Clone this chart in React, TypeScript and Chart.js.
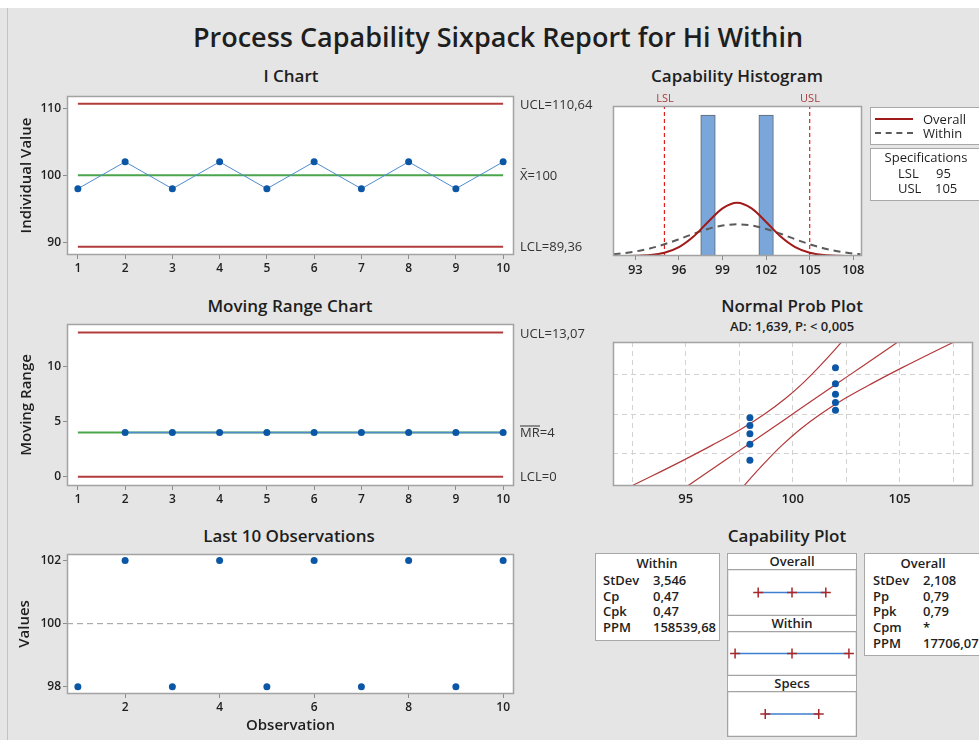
import React, { useEffect, useRef } from 'react';
import { Chart, registerables } from 'chart.js';

Chart.register(...registerables);

const FONT = '"Open Sans", "Noto Sans", "DejaVu Sans", sans-serif';

// ---------------- data ----------------
const observations = [1, 2, 3, 4, 5, 6, 7, 8, 9, 10];
const individualValues = [98, 102, 98, 102, 98, 102, 98, 102, 98, 102];
const movingRanges = [null, 4, 4, 4, 4, 4, 4, 4, 4, 4];
const iLimits = [110.64, 100, 89.36]; // UCL, mean, LCL
const mrLimits = [13.07, 4, 0]; // UCL, mean, LCL
const obsTicks = [1, 2, 3, 4, 5, 6, 7, 8, 9, 10];
const iYTicks = [90, 100, 110];
const mrYTicks = [0, 5, 10];
const last10XTicks = [2, 4, 6, 8, 10];
const last10YTicks = [98, 100, 102];

const histBinCenters = [98, 102];
const histCounts = [5, 5];
const histBinWidth = 1;
const histXTicks = [93, 96, 99, 102, 105, 108];
const curveX = [91.5, 92, 93, 94, 95, 96, 97, 98, 99, 100, 101, 102, 103, 104, 105, 106, 107, 108, 108.5];
const overallCurve = [0.001, 0.001, 0.008, 0.033, 0.114, 0.313, 0.688, 1.207, 1.691, 1.893, 1.691, 1.207, 0.688, 0.313, 0.114, 0.033, 0.008, 0.001, 0.001];
const withinCurve = [0.064, 0.088, 0.16, 0.269, 0.416, 0.595, 0.787, 0.96, 1.081, 1.125, 1.081, 0.96, 0.787, 0.595, 0.416, 0.269, 0.16, 0.088, 0.064];
const specLimits = [95, 105]; // LSL, USL

const probValues = [98, 98, 98, 98, 98, 102, 102, 102, 102, 102];
const probScores = [-1.5, -0.98, -0.64, -0.37, -0.12, 0.12, 0.37, 0.64, 0.98, 1.5];
const probGridX = [92.5, 95, 97.5, 100, 102.5, 105, 107.5];
const probXTicks = [95, 100, 105];
const probGridZ = [-1.28, 0, 1.28];
const bandZ = [-2.4, -2, -1.5, -1, -0.5, 0, 0.5, 1, 1.5, 2, 2.4];
const bandLower = [92.26, 93.44, 94.88, 96.26, 97.56, 98.69, 99.66, 100.48, 101.2, 101.87, 102.38];
const bandCenter = [94.94, 95.78, 96.84, 97.89, 98.95, 100, 101.05, 102.11, 103.16, 104.22, 105.06];
const bandUpper = [97.62, 98.13, 98.8, 99.52, 100.34, 101.31, 102.44, 103.74, 105.12, 106.56, 107.74];

const capOverall = [93.68, 100, 106.32];
const capWithin = [89.36, 100, 110.64];
const capSpecs = [95, 105];

const withinStats = [['StDev', '3,546'], ['Cp', '0,47'], ['Cpk', '0,47'], ['PPM', '158539,68']];
const overallStats = [['StDev', '2,108'], ['Pp', '0,79'], ['Ppk', '0,79'], ['Cpm', '*'], ['PPM', '17706,07']];

// ---------------- styles ----------------
const RED = '#b23c3c';
const GREEN = '#4aa54c';
const BLUE_LINE = '#4f8ccf';
const BLUE_DOT = '#0b57a5';
const TXT = '#1e1e1e';

const boxPlugin = {
  id: 'box',
  beforeDraw(chart: any, _a: any, o: any) {
    if (!o || !o.fill) return;
    const a = chart.chartArea;
    const c = chart.ctx;
    c.save();
    c.fillStyle = o.fill;
    c.fillRect(a.left, a.top, a.right - a.left, a.bottom - a.top);
    c.restore();
  },
  afterDraw(chart: any, _a: any, o: any) {
    if (!o || !o.stroke) return;
    const a = chart.chartArea;
    const c = chart.ctx;
    c.save();
    c.strokeStyle = o.stroke;
    c.lineWidth = 1.5;
    c.strokeRect(a.left + 0.5, a.top + 0.5, a.right - a.left - 1, a.bottom - a.top - 1);
    c.restore();
  },
};

const tickFont = { family: FONT, size: 12, weight: '600' };

function axis(min: number, max: number, ticks: number[], fit: (s: any) => void, extra: any = {}) {
  return {
    type: 'linear',
    min,
    max,
    offset: false,
    afterBuildTicks: (s: any) => {
      s.ticks = ticks.map((v) => ({ value: v }));
    },
    afterFit: fit,
    border: { display: false },
    grid: { drawOnChartArea: false, drawTicks: true, tickLength: 4, tickColor: '#8c8c8c', offset: false },
    ticks: { color: TXT, font: tickFont, padding: 2, autoSkip: false, maxRotation: 0, callback: (v: any) => String(v) },
    ...extra,
  };
}

const fitW = (w: number) => (s: any) => {
  s.width = w;
};
const fitH = (h: number) => (s: any) => {
  s.height = h;
};

const axisTitle = (text: string, pad: any) => ({
  display: true,
  text,
  color: TXT,
  font: { family: FONT, size: 15, weight: '600' },
  padding: pad,
});

function baseOptions(scales: any) {
  return {
    responsive: false,
    animation: false,
    events: [],
    plugins: {
      legend: { display: false },
      tooltip: { enabled: false },
      box: { fill: '#ffffff', stroke: '#a3a3a3' },
    },
    scales,
  };
}

function hline(y: number, color: string) {
  return {
    data: [
      { x: observations[0], y },
      { x: observations[observations.length - 1], y },
    ],
    borderColor: color,
    borderWidth: 2,
    pointRadius: 0,
  };
}

type Geo = { l: number; t: number; r: number; b: number; yw: number; pl?: number; pt: number; pr: number; xh: number };

function ChartBox({ geo, make }: { geo: Geo; make: (g: Geo) => any }) {
  const ref = useRef<HTMLCanvasElement>(null);
  const pl = geo.pl ?? 0;
  const left = geo.l - geo.yw - pl;
  const top = geo.t - geo.pt;
  const width = pl + geo.yw + (geo.r - geo.l) + geo.pr;
  const height = geo.pt + (geo.b - geo.t) + geo.xh;
  useEffect(() => {
    const cfg = make(geo);
    cfg.options.layout = { autoPadding: false, padding: { left: pl, top: geo.pt, right: geo.pr, bottom: 0 } };
    const chart = new Chart(ref.current as HTMLCanvasElement, { ...cfg, plugins: [boxPlugin] });
    return () => chart.destroy();
  }, []);
  return (
    <canvas
      ref={ref}
      width={width}
      height={height}
      style={{ position: 'absolute', left, top, width, height }}
    />
  );
}

// ---------------- chart configs ----------------
const gI: Geo = { l: 67, t: 96, r: 514, b: 255, yw: 59, pt: 10, pr: 12, xh: 22 };
const gMR: Geo = { l: 67, t: 324, r: 514, b: 486, yw: 59, pt: 10, pr: 12, xh: 22 };
const gL10: Geo = { l: 67, t: 554, r: 514, b: 694, yw: 59, pt: 10, pr: 12, xh: 45 };
const gHist: Geo = { l: 613, t: 106, r: 862, b: 256, yw: 0, pl: 8, pt: 4, pr: 8, xh: 22 };
const gProb: Geo = { l: 613, t: 342, r: 973, b: 486, yw: 0, pl: 5, pt: 4, pr: 5, xh: 22 };
const gCapO: Geo = { l: 727, t: 569, r: 857, b: 616, yw: 0, pt: 0, pr: 0, xh: 0 };
const gCapW: Geo = { l: 727, t: 631, r: 857, b: 676, yw: 0, pt: 0, pr: 0, xh: 0 };
const gCapS: Geo = { l: 727, t: 691, r: 857, b: 737, yw: 0, pt: 0, pr: 0, xh: 0 };

const X_RANGE = [0.77, 10.23];

const makeIChart = (g: Geo) => ({
  type: 'line',
  data: {
    datasets: [
      {
        data: observations.map((x, i) => ({ x, y: individualValues[i] })),
        borderColor: BLUE_LINE,
        borderWidth: 1,
        pointRadius: 3.5,
        pointBackgroundColor: BLUE_DOT,
        pointBorderColor: BLUE_DOT,
        pointBorderWidth: 0,
      },
      hline(iLimits[0], RED),
      hline(iLimits[1], GREEN),
      hline(iLimits[2], RED),
    ],
  },
  options: baseOptions({
    x: axis(X_RANGE[0], X_RANGE[1], obsTicks, fitH(g.xh)),
    y: axis(88.14, 111.8, iYTicks, fitW(g.yw), { title: axisTitle('Individual Value', { top: 10, bottom: 0 }) }),
  }),
});

const makeMRChart = (g: Geo) => ({
  type: 'line',
  data: {
    datasets: [
      {
        data: observations.map((x, i) => ({ x, y: movingRanges[i] })),
        borderColor: BLUE_LINE,
        borderWidth: 1.5,
        pointRadius: 3.5,
        pointBackgroundColor: BLUE_DOT,
        pointBorderColor: BLUE_DOT,
        pointBorderWidth: 0,
      },
      hline(mrLimits[0], RED),
      hline(mrLimits[1], GREEN),
      hline(mrLimits[2], RED),
    ],
  },
  options: baseOptions({
    x: axis(X_RANGE[0], X_RANGE[1], obsTicks, fitH(g.xh)),
    y: axis(-0.85, 13.85, mrYTicks, fitW(g.yw), { title: axisTitle('Moving Range', { top: 10, bottom: 0 }) }),
  }),
});

const makeLast10 = (g: Geo) => ({
  type: 'line',
  data: {
    datasets: [
      {
        data: observations.map((x, i) => ({ x, y: individualValues[i] })),
        showLine: false,
        pointRadius: 3.5,
        pointBackgroundColor: BLUE_DOT,
        pointBorderColor: BLUE_DOT,
        pointBorderWidth: 0,
      },
      {
        data: [
          { x: X_RANGE[0], y: iLimits[1] },
          { x: X_RANGE[1], y: iLimits[1] },
        ],
        borderColor: '#9a9a9a',
        borderWidth: 1,
        borderDash: [6, 4],
        pointRadius: 0,
      },
    ],
  },
  options: baseOptions({
    x: axis(X_RANGE[0], X_RANGE[1], last10XTicks, fitH(g.xh), { title: axisTitle('Observation', { top: 0, bottom: 4 }) }),
    y: axis(97.77, 102.21, last10YTicks, fitW(g.yw), { title: axisTitle('Values', { top: 8, bottom: 0 }) }),
  }),
});

const HIST_X = [91.46, 108.6];
const HIST_YMAX = 5.32;

const makeHist = (g: Geo) => {
  const pxPerUnit = (g.r - g.l) / (HIST_X[1] - HIST_X[0]);
  const specLine = (x: number) => ({
    data: [
      { x, y: 0 },
      { x, y: HIST_YMAX },
    ],
    borderColor: '#e01e1e',
    borderWidth: 1.2,
    borderDash: [4, 3],
    pointRadius: 0,
  });
  return {
    type: 'line',
    data: {
      datasets: [
        {
          data: curveX.map((x, i) => ({ x, y: overallCurve[i] })),
          borderColor: '#a01a1a',
          borderWidth: 2,
          pointRadius: 0,
          cubicInterpolationMode: 'monotone',
          clip: 0,
        },
        {
          data: curveX.map((x, i) => ({ x, y: withinCurve[i] })),
          borderColor: '#5a5a5a',
          borderWidth: 2,
          borderDash: [7, 5],
          pointRadius: 0,
          cubicInterpolationMode: 'monotone',
          clip: 0,
        },
        specLine(specLimits[0]),
        specLine(specLimits[1]),
        {
          type: 'bar',
          data: histBinCenters.map((x, i) => ({ x, y: histCounts[i] })),
          backgroundColor: '#7ba6d9',
          borderColor: '#5d6670',
          borderWidth: 1,
          barThickness: histBinWidth * pxPerUnit,
          grouped: false,
        },
      ],
    },
    options: baseOptions({
      x: axis(HIST_X[0], HIST_X[1], histXTicks, fitH(g.xh), {
        ticks: { color: TXT, font: { family: FONT, size: 13, weight: '600' }, padding: 2, autoSkip: false, maxRotation: 0, callback: (v: any) => String(v) },
      }),
      y: { type: 'linear', display: false, min: 0, max: HIST_YMAX },
    }),
  };
};

const makeProb = (g: Geo) => {
  const band = (xs: number[]) => ({
    data: bandZ.map((z, i) => ({ x: xs[i], y: z })),
    borderColor: '#b2383a',
    borderWidth: 1.2,
    pointRadius: 0,
    cubicInterpolationMode: 'monotone',
    clip: 0,
  });
  return {
    type: 'line',
    data: {
      datasets: [
        {
          data: probValues.map((x, i) => ({ x, y: probScores[i] })),
          showLine: false,
          pointRadius: 3.5,
          pointBackgroundColor: BLUE_DOT,
          pointBorderColor: BLUE_DOT,
          pointBorderWidth: 0,
        },
        band(bandLower),
        band(bandCenter),
        band(bandUpper),
      ],
    },
    options: baseOptions({
      x: axis(91.6, 108.43, probGridX, fitH(g.xh), {
        border: { display: false, dash: [5, 4] },
        grid: { drawOnChartArea: true, drawTicks: false, color: '#d2d2d2', offset: false },
        ticks: {
          color: TXT,
          font: { family: FONT, size: 13, weight: '600' },
          padding: 5,
          autoSkip: false,
          maxRotation: 0,
          callback: (v: any) => (probXTicks.includes(v) ? String(v) : ''),
        },
      }),
      y: axis(-2.33, 2.33, probGridZ, fitW(0), {
        border: { display: false, dash: [5, 4] },
        grid: { drawOnChartArea: true, drawTicks: false, color: '#d2d2d2' },
        ticks: { display: false },
      }),
    }),
  };
};

const CAP_X = [87.85, 112.15];
const makeCap = (vals: number[]) => (_g: Geo) => ({
  type: 'line',
  data: {
    datasets: [
      {
        data: vals.map((x) => ({ x, y: 0.5 })),
        borderColor: '#3f7fcf',
        borderWidth: 1.5,
        pointStyle: 'cross',
        pointRadius: 5,
        pointBorderColor: '#a8282a',
        pointBorderWidth: 1.5,
        clip: false,
      },
    ],
  },
  options: baseOptions({
    x: { type: 'linear', display: false, min: CAP_X[0], max: CAP_X[1] },
    y: { type: 'linear', display: false, min: 0, max: 1 },
  }),
});

// ---------------- text helpers ----------------
function T({
  x,
  y,
  children,
  size = 13,
  weight = 400,
  align = 'left',
  color = TXT,
}: {
  x: number;
  y: number;
  children: any;
  size?: number;
  weight?: number;
  align?: string;
  color?: string;
}) {
  const tx = align === 'center' ? '-50%' : align === 'right' ? '-100%' : '0';
  return (
    <div
      style={{
        position: 'absolute',
        left: x,
        top: y,
        transform: `translate(${tx},-50%)`,
        fontFamily: FONT,
        fontSize: size,
        fontWeight: weight,
        color,
        whiteSpace: 'nowrap',
        lineHeight: 1,
      }}
    >
      {children}
    </div>
  );
}

function Box({ l, t, w, h, bg = '#fff' }: { l: number; t: number; w: number; h: number; bg?: string }) {
  return (
    <div
      style={{
        position: 'absolute',
        left: l,
        top: t,
        width: w,
        height: h,
        boxSizing: 'border-box',
        border: '1.5px solid #a8a8a8',
        background: bg,
      }}
    />
  );
}

export default function App() {
  const rowYs = [580, 595.7, 611.3, 627, 642.7];
  return (
    <div style={{ position: 'absolute', left: 0, top: 0, width: 979, height: 740, overflow: 'hidden', background: '#fff' }}>
      <div style={{ position: 'absolute', left: 0, top: 8, width: 979, height: 732, background: '#e5e5e5' }} />
      <div style={{ position: 'absolute', left: 7, top: 8, width: 1, height: 732, background: '#c2c2c2' }} />

      <T x={498} y={36} size={27} weight={600} align="center">
        Process Capability Sixpack Report for Hi Within
      </T>

      {/* panel titles */}
      <T x={291} y={75} size={17} weight={600} align="center">I Chart</T>
      <T x={737} y={75} size={17} weight={600} align="center">Capability Histogram</T>
      <T x={290} y={305} size={17} weight={600} align="center">Moving Range Chart</T>
      <T x={792} y={305} size={17} weight={600} align="center">Normal Prob Plot</T>
      <T x={792} y={326} size={13} weight={600} align="center">AD: 1,639, P: &lt; 0,005</T>
      <T x={289} y={535} size={17} weight={600} align="center">Last 10 Observations</T>
      <T x={787} y={535} size={17} weight={600} align="center">Capability Plot</T>

      {/* charts */}
      <ChartBox geo={gI} make={makeIChart} />
      <ChartBox geo={gMR} make={makeMRChart} />
      <ChartBox geo={gL10} make={makeLast10} />
      <ChartBox geo={gHist} make={makeHist} />
      <ChartBox geo={gProb} make={makeProb} />

      {/* control limit labels */}
      <T x={520} y={104} color="#333">UCL=110,64</T>
      <T x={520} y={175} color="#333">X̄=100</T>
      <T x={520} y={246} color="#333">LCL=89,36</T>
      <T x={520} y={333} color="#333">UCL=13,07</T>
      <T x={520} y={432} color="#333">
        <span style={{ display: 'inline-block', borderTop: '1px solid #333', lineHeight: '11px' }}>MR</span>=4
      </T>
      <T x={520} y={476} color="#333">LCL=0</T>

      {/* histogram spec labels */}
      <T x={665} y={97} size={11} align="center" color="#a83c3c">LSL</T>
      <T x={810} y={97} size={11} align="center" color="#a83c3c">USL</T>

      {/* legend */}
      <Box l={870} t={107} w={120} h={38} />
      <div style={{ position: 'absolute', left: 875, top: 118, width: 38, height: 0, borderTop: '2px solid #a01a1a' }} />
      <div style={{ position: 'absolute', left: 875, top: 132, width: 38, height: 0, borderTop: '2px dashed #5a5a5a' }} />
      <T x={923} y={119}>Overall</T>
      <T x={923} y={133}>Within</T>
      <Box l={870} t={148} w={120} h={53} />
      <T x={926} y={157} align="center">Specifications</T>
      <T x={898} y={173}>LSL</T>
      <T x={936} y={173}>95</T>
      <T x={898} y={188}>USL</T>
      <T x={935} y={188}>105</T>

      {/* capability plot */}
      <Box l={595} t={553} w={125} h={88} />
      <T x={657} y={563} weight={600} align="center">Within</T>
      {withinStats.map((r, i) => (
        <React.Fragment key={'w' + i}>
          <T x={603} y={rowYs[i]} weight={600}>{r[0]}</T>
          <T x={653} y={rowYs[i]} weight={600}>{r[1]}</T>
        </React.Fragment>
      ))}
      <Box l={864} t={553} w={125} h={103} />
      <T x={923} y={563} weight={600} align="center">Overall</T>
      {overallStats.map((r, i) => (
        <React.Fragment key={'o' + i}>
          <T x={873} y={rowYs[i]} weight={600}>{r[0]}</T>
          <T x={923} y={rowYs[i]} weight={600}>{r[1]}</T>
        </React.Fragment>
      ))}

      <Box l={727} t={553} w={130} h={17} />
      <T x={792} y={561} weight={600} align="center">Overall</T>
      <Box l={727} t={615} w={130} h={17} />
      <T x={792} y={623} weight={600} align="center">Within</T>
      <Box l={727} t={675} w={130} h={17} />
      <T x={792} y={683} weight={600} align="center">Specs</T>
      <ChartBox geo={gCapO} make={makeCap(capOverall)} />
      <ChartBox geo={gCapW} make={makeCap(capWithin)} />
      <ChartBox geo={gCapS} make={makeCap(capSpecs)} />
    </div>
  );
}
